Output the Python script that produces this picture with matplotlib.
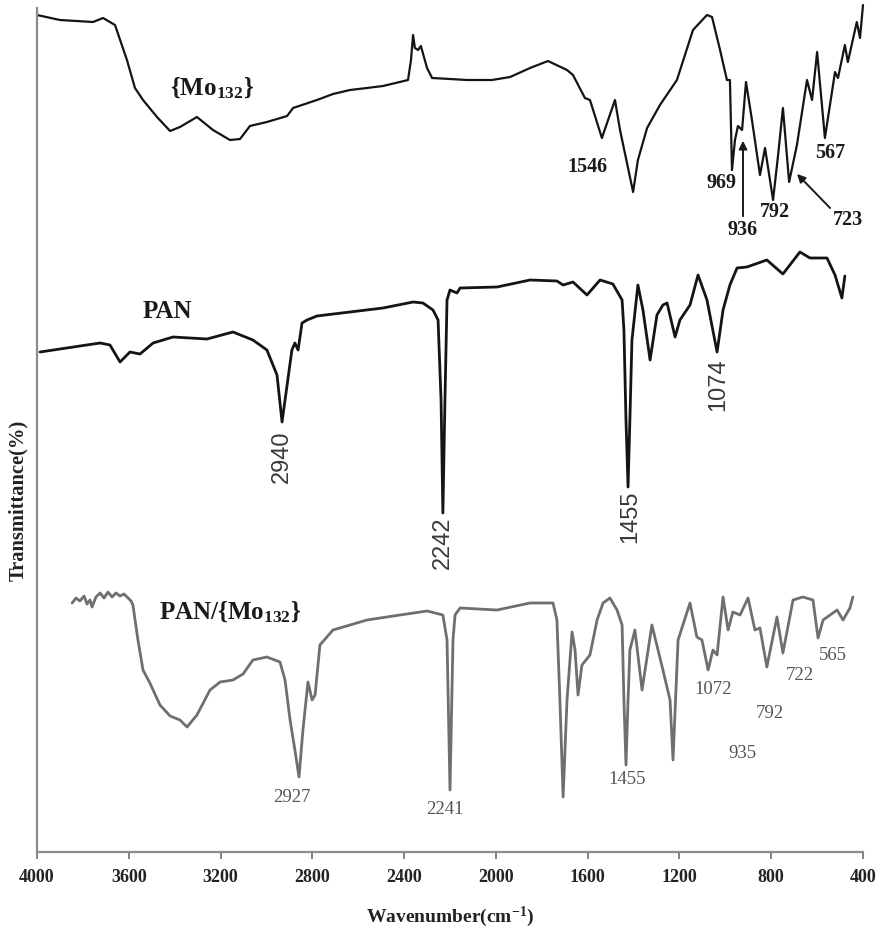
import matplotlib
matplotlib.use("Agg")
import matplotlib.pyplot as plt

plt.rcParams['mathtext.fontset'] = 'custom'
plt.rcParams['mathtext.rm'] = 'Liberation Serif'
plt.rcParams['mathtext.it'] = 'Liberation Serif:italic'
plt.rcParams['mathtext.bf'] = 'Liberation Serif:bold'

# ---------------- data (wavenumber cm-1, transmittance a.u. with offsets) ----------------
mo_wn = [4000, 3900, 3756, 3712, 3660, 3608, 3573, 3538, 3477, 3420, 3377, 3303, 3233, 3159,
         3115, 3072, 2998, 2910, 2884, 2780, 2710, 2636, 2562, 2492, 2383, 2370, 2361, 2353,
         2339, 2327, 2300, 2278, 2200, 2126, 2017, 1938, 1851, 1773, 1690, 1664, 1612, 1590,
         1538, 1511, 1481, 1459, 1402, 1381, 1341, 1285, 1211, 1141, 1080, 1058, 1023, 993,
         980, 971, 958, 945, 927, 910, 884, 849, 827, 792, 770, 749, 722, 688, 644, 622, 600,
         566, 522, 509, 479, 466, 427, 413, 400]
mo_t = [837, 832, 830, 834, 827, 792, 764, 752, 735, 721, 725, 735, 722, 712,
        713, 726, 730, 736, 744, 752, 758, 762, 764, 766, 772, 792, 817, 804,
        802, 806, 784, 774, 773, 772, 772, 775, 784, 791, 782, 777, 754, 752,
        714, 732, 752, 722, 660, 692, 724, 747, 772, 822, 837, 835, 802, 772,
        772, 682, 712, 726, 722, 770, 732, 677, 704, 652, 697, 744, 670, 707, 772, 752, 800,
        714, 780, 774, 807, 790, 830, 814, 847]

pan_wn = [3987, 3725, 3682, 3638, 3595, 3551, 3494, 3407, 3259, 3146, 3059, 2998, 2954, 2932,
          2910, 2889, 2876, 2862, 2845, 2823, 2780, 2636, 2492, 2361, 2318, 2274, 2252, 2239,
          2231, 2222, 2213, 2200, 2170, 2156, 1995, 1851, 1734, 1707, 1664, 1603, 1546, 1490,
          1450, 1442, 1433, 1424, 1416, 1407, 1381, 1359, 1328, 1298, 1272, 1254, 1219, 1198,
          1154, 1119, 1080, 1036, 1010, 980, 949, 906, 819, 749, 675, 631, 557, 522, 492, 479]
pan_t = [500, 509, 507, 490, 500, 498, 509, 515, 513, 520, 512, 502, 477, 430,
         467, 502, 509, 502, 529, 532, 536, 540, 544, 550, 549, 542, 532, 452,
         339, 452, 552, 562, 559, 564, 565, 572, 571, 567, 570, 557, 572, 568,
         552, 522, 432, 365, 432, 512, 567, 542, 492, 537, 547, 549, 515, 532,
         547, 577, 552, 500, 542, 567, 584, 585, 592, 578, 600, 594, 594, 577, 554, 576]

comp_wn = [3847, 3830, 3813, 3795, 3782, 3769, 3760, 3743, 3725, 3708, 3691, 3673, 3656, 3638,
           3621, 3603, 3590, 3582, 3560, 3538, 3508, 3464, 3420, 3377, 3346, 3303, 3246, 3202,
           3146, 3102, 3059, 2998, 2941, 2919, 2897, 2876, 2858, 2841, 2819, 2801, 2788, 2767,
           2710, 2636, 2562, 2418, 2300, 2231, 2213, 2200, 2187, 2178, 2156, 1995, 1851, 1751,
           1734, 1721, 1707, 1690, 1668, 1655, 1642, 1625, 1590, 1559, 1533, 1503, 1472, 1450,
           1442, 1433, 1424, 1416, 1394, 1363, 1320, 1272, 1241, 1228, 1206, 1154, 1124, 1102,
           1075, 1054, 1036, 1010, 988, 967, 936, 901, 871, 849, 819, 775, 749, 705, 662, 618,
           596, 574, 513, 487, 457, 444]
comp_t = [249, 254, 251, 256, 248, 252, 245, 255, 259, 254, 260, 255, 259, 256,
          258, 254, 251, 247, 212, 182, 169, 147, 136, 132, 125, 137, 162, 170,
          172, 178, 192, 195, 190, 172, 132, 102, 75, 122, 170, 152, 157, 207,
          222, 227, 232, 237, 241, 237, 212, 62, 212, 237, 244, 242, 249, 249,
          232, 152, 55, 152, 220, 202, 157, 187, 197, 232, 249, 254, 242, 227,
          152, 87, 152, 202, 222, 162, 227, 182, 152, 92, 212, 249, 215, 212,
          182, 202, 197, 255, 222, 240, 237, 254, 222, 224, 185, 235, 199, 252, 255, 252,
          214, 232, 242, 232, 244, 255]

x_ticks = [4000, 3600, 3200, 2800, 2400, 2000, 1600, 1200, 800, 400]

# annotation texts
mo_labels = ["1546", "969", "936", "792", "723", "567"]
pan_labels = ["2940", "2242", "1455", "1074"]
comp_labels = ["2927", "2241", "1455", "1072", "792", "935", "722", "565"]

# ---------------- figure ----------------
W, H = 881, 931
fig = plt.figure(figsize=(W / 100, H / 100), dpi=100)
ax = fig.add_axes([37 / W, 1 - 852 / H, (863 - 37) / W, (852 - 8) / H])

kw = dict(clip_on=False, solid_joinstyle='round', solid_capstyle='round')
ax.plot(mo_wn, mo_t, color='#141414', lw=1.6, **kw)
ax.plot(pan_wn, pan_t, color='#141414', lw=2.0, **kw)
ax.plot(comp_wn, comp_t, color='#6f6f6f', lw=2.0, **kw)

ax.set_xlim(4000, 400)
ax.set_ylim(0, 844)
ax.set_xticks(x_ticks)
ax.set_xticklabels([str(v) for v in x_ticks])
ax.set_yticks([])
for s in ['top', 'right']:
    ax.spines[s].set_visible(False)
for s in ['left', 'bottom']:
    ax.spines[s].set_color('#8c8c8c')
    ax.spines[s].set_linewidth(1.6)
ax.tick_params(axis='x', direction='out', length=5, width=1.2, color='#6c6c6c', pad=7)
for t in ax.get_xticklabels():
    t.set_fontfamily('Liberation Serif')
    t.set_fontweight('bold')
    t.set_fontsize(13)
    t.set_color('#222222')

serif = 'Liberation Serif'
sans = 'Liberation Sans'

# series names
ax.text(3237, 764, r"{Mo$_{\mathbf{132}}$}", fontfamily=serif, fontweight='bold',
        fontsize=18, color='#1a1a1a', ha='center', va='center')
ax.text(3433, 540, "PAN", fontfamily=serif, fontweight='bold',
        fontsize=18, color='#1a1a1a', ha='center', va='center')
ax.text(3159, 240, r"PAN/{Mo$_{\mathbf{132}}$}", fontfamily=serif, fontweight='bold',
        fontsize=18, color='#1a1a1a', ha='center', va='center')

# Mo132 peak labels
mo_pos = [(1603, 685), (1015, 669), (927, 622), (784, 640), (465, 632), (544, 699)]
for lab, (x, y) in zip(mo_labels, mo_pos):
    ax.text(x, y, lab, fontfamily=serif, fontweight='bold', fontsize=14.5,
            color='#1a1a1a', ha='center', va='center')
ax.annotate("", xy=(923, 714), xytext=(923, 633),
            arrowprops=dict(arrowstyle='-|>', color='#1a1a1a', lw=1.4, mutation_scale=12))
ax.annotate("", xy=(696, 680), xytext=(535, 642),
            arrowprops=dict(arrowstyle='-|>', color='#1a1a1a', lw=1.4, mutation_scale=12))

# PAN peak labels (rotated)
pan_pos = [(2932, 395), (2231, 309), (1416, 335), (1032, 467)]
for lab, (x, y) in zip(pan_labels, pan_pos):
    ax.text(x, y, lab, fontfamily=sans, fontsize=17, color='#3a3a3a',
            rotation=90, ha='center', va='center')

# composite peak labels
comp_pos = [(2889, 54), (2222, 42), (1429, 72), (1054, 163), (805, 138), (927, 99), (675, 176), (531, 197)]
for lab, (x, y) in zip(comp_labels, comp_pos):
    ax.text(x, y, lab, fontfamily=serif, fontsize=13.5, color='#555555',
            ha='center', va='center')

# axis labels
fig.text(18 / W, 1 - 500 / H, "Transmittance(%)", fontfamily=serif, fontweight='bold',
         fontsize=14.8, color='#222222', rotation=90, ha='center', va='center')
fig.text(450 / W, 1 - 917 / H, r"Wavenumber(cm$^{\mathbf{-1}}$)", fontfamily=serif,
         fontweight='bold', fontsize=14, color='#222222', ha='center', va='center')

fig.savefig("out.png", dpi=100)
